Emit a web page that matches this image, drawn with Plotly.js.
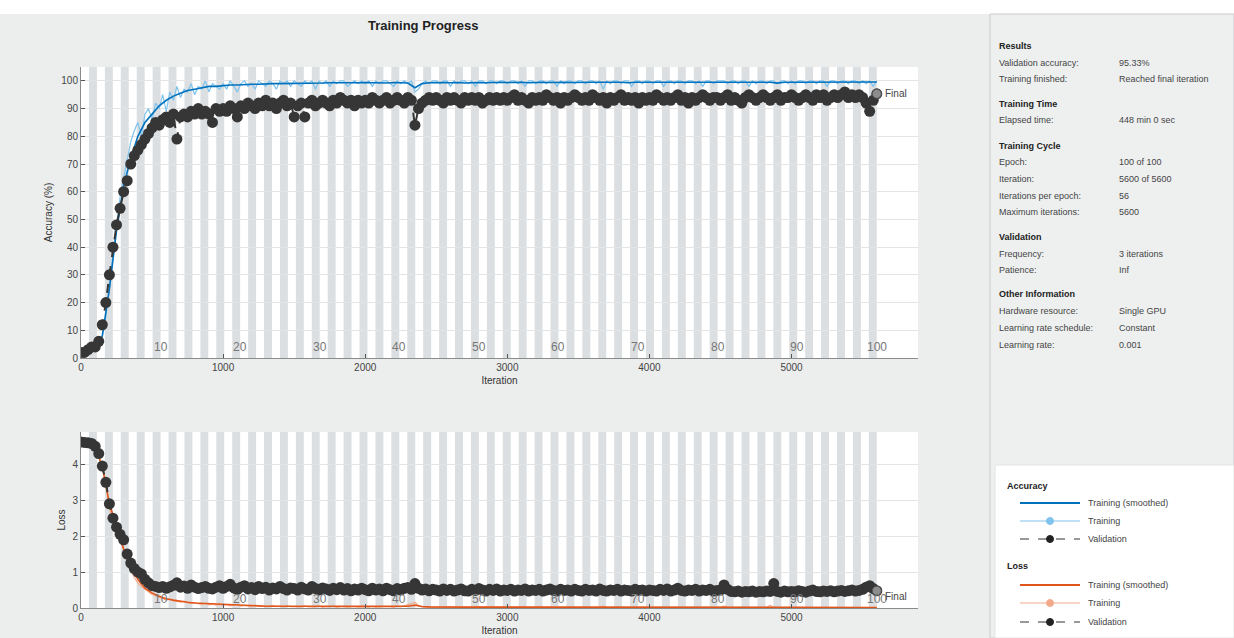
<!DOCTYPE html>
<html><head><meta charset="utf-8">
<script src="https://cdn.plot.ly/plotly-3.0.1.min.js"></script>
<style>html,body{margin:0;padding:0;background:#eceeee;}#chart{width:1234px;height:638px;}</style>
</head><body><div id="chart"></div>
<script>
// ---------------- DATA ----------------
// iterations sampled every 25 (raw training + validation)
const iterDense = [
 0,25,50,75,100,125,150,175,200,225,250,275,300,325,350,375,400,425,450,475,
 500,525,550,575,600,625,650,675,700,725,750,775,800,825,850,875,900,925,950,975,
 1000,1025,1050,1075,1100,1125,1150,1175,1200,1225,1250,1275,1300,1325,1350,1375,1400,1425,1450,1475,
 1500,1525,1550,1575,1600,1625,1650,1675,1700,1725,1750,1775,1800,1825,1850,1875,1900,1925,1950,1975,
 2000,2025,2050,2075,2100,2125,2150,2175,2200,2225,2250,2275,2300,2325,2350,2375,2400,2425,2450,2475,
 2500,2525,2550,2575,2600,2625,2650,2675,2700,2725,2750,2775,2800,2825,2850,2875,2900,2925,2950,2975,
 3000,3025,3050,3075,3100,3125,3150,3175,3200,3225,3250,3275,3300,3325,3350,3375,3400,3425,3450,3475,
 3500,3525,3550,3575,3600,3625,3650,3675,3700,3725,3750,3775,3800,3825,3850,3875,3900,3925,3950,3975,
 4000,4025,4050,4075,4100,4125,4150,4175,4200,4225,4250,4275,4300,4325,4350,4375,4400,4425,4450,4475,
 4500,4525,4550,4575,4600,4625,4650,4675,4700,4725,4750,4775,4800,4825,4850,4875,4900,4925,4950,4975,
 5000,5025,5050,5075,5100,5125,5150,5175,5200,5225,5250,5275,5300,5325,5350,5375,5400,5425,5450,5475,
 5500,5525,5550,5575,5600];

// iterations sampled every 50 (smoothed curves)
const iterSmooth = [
 0,50,100,150,200,250,300,350,400,450,
 500,550,600,650,700,750,800,850,900,950,
 1000,1050,1100,1150,1200,1250,1300,1350,1400,1450,
 1500,1550,1600,1650,1700,1750,1800,1850,1900,1950,
 2000,2050,2100,2150,2200,2250,2300,2350,2400,2450,
 2500,2550,2600,2650,2700,2750,2800,2850,2900,2950,
 3000,3050,3100,3150,3200,3250,3300,3350,3400,3450,
 3500,3550,3600,3650,3700,3750,3800,3850,3900,3950,
 4000,4050,4100,4150,4200,4250,4300,4350,4400,4450,
 4500,4550,4600,4650,4700,4750,4800,4850,4900,4950,
 5000,5050,5100,5150,5200,5250,5300,5350,5400,5450,
 5500,5550,5600];

const trainAccRaw = [
 1,2,3,2,4,3,8,15,25,38,48,58,65,72,78,82,85,80,88,90,
 86,92,90,95,89,96,93,98,94,97,96,99,95,98,97,100,96,99,98,97,
 99,97,100,98,96,99,100,98,99,97,100,99,98,100,99,97,100,99,100,98,
 100,99,98,100,99,100,97,100,99,100,98,100,99,100,100,98,99,100,99,100,
 99,100,98,100,99,100,100,99,98,100,99,100,99,100,96,97,99,100,99,100,
 100,99,100,100,98,100,99,100,100,99,100,98,100,100,99,100,100,99,100,100,
 99,100,100,99,100,98,100,100,99,100,100,99,100,100,98,100,99,100,100,99,
 100,100,99,100,100,99,100,97,100,99,100,100,99,100,100,98,100,100,99,100,
 100,99,100,100,98,100,100,99,100,100,99,100,100,99,100,98,100,100,99,100,
 100,100,99,100,100,99,100,100,98,100,99,100,100,99,100,100,99,100,100,99,
 100,99,100,100,99,100,100,99,100,100,98,100,100,99,100,100,99,100,100,99,
 100,99,100,98,100];

const valAcc = [
 2,2,3,4,4,6,12,20,30,40,48,54,60,64,70,73,75,77,79,81,
 83,85,84,86,87,85,88,79,87,88,87,89,88,90,88,89,88,85,90,89,
 90,89,91,90,87,91,90,92,91,90,92,91,93,91,92,90,92,93,91,92,
 87,91,92,87,92,93,91,92,93,92,91,93,92,94,93,92,93,91,93,92,
 93,92,94,93,92,93,94,92,93,94,93,92,94,93,84,90,92,93,94,93,
 94,93,92,94,93,94,93,92,94,93,94,93,94,92,93,94,93,94,93,94,
 93,94,95,93,94,93,92,94,93,94,93,95,94,93,94,92,94,93,94,95,
 94,93,94,93,95,94,93,94,92,94,93,94,95,93,94,93,94,92,94,93,
 94,93,95,94,93,94,93,94,95,93,94,92,94,93,94,95,94,93,94,94,
 93,94,95,93,94,93,92,94,95,94,93,94,95,94,93,94,95,93,94,94,
 95,94,93,94,95,94,93,95,94,95,93,94,95,94,95,96,94,95,94,95,
 94,92,89,93,95.33];

const trainAccSmooth = [
 2,3,3,8,25,46,62,72,80,85,
 88,91,93,94.5,95.5,96.5,97,97.5,98,98,
 98.3,98.5,98.5,98.7,98.8,98.8,99,99,99,99,
 99,99.2,99,99.2,99.2,99.3,99.3,99.1,99.3,99.3,
 99.4,99.3,99.4,99.2,99.4,99.3,99.2,97.5,99,99.3,
 99.4,99.4,99.3,99.4,99.2,99.4,99.4,99.3,99.5,99.5,
 99.4,99.5,99.5,99.3,99.5,99.5,99.4,99.5,99.5,99.4,
 99.5,99.4,99.5,99.5,99.4,99.5,99.5,99.3,99.5,99.5,
 99.5,99.4,99.5,99.5,99.5,99.4,99.5,99.5,99.3,99.5,
 99.5,99.5,99.4,99.5,99.5,99.5,99.4,99.5,99.2,99.5,
 99.5,99.5,99.4,99.5,99.5,99.5,99.5,99.4,99.5,99.5,
 99.5,99.4,99.6];

const trainLossRaw = [
 4.6,4.6,4.58,4.55,4.45,4.25,3.9,3.4,2.8,2.35,2.2,1.9,1.6,1.3,1.05,0.85,0.7,0.6,0.52,0.45,
 0.38,0.34,0.3,0.26,0.22,0.25,0.2,0.18,0.16,0.19,0.14,0.13,0.15,0.12,0.1,0.13,0.09,0.11,0.08,0.1,
 0.07,0.09,0.06,0.08,0.1,0.05,0.07,0.06,0.04,0.08,0.05,0.06,0.04,0.05,0.07,0.04,0.05,0.03,0.06,0.04,
 0.04,0.05,0.03,0.06,0.03,0.04,0.03,0.05,0.02,0.04,0.03,0.05,0.02,0.03,0.04,0.02,0.03,0.04,0.02,0.03,
 0.03,0.02,0.04,0.02,0.03,0.02,0.04,0.03,0.02,0.05,0.03,0.06,0.08,0.12,0.16,0.06,0.03,0.02,0.03,0.02,
 0.02,0.03,0.02,0.02,0.04,0.02,0.03,0.02,0.02,0.03,0.02,0.02,0.04,0.02,0.02,0.03,0.02,0.02,0.03,0.02,
 0.02,0.02,0.03,0.02,0.02,0.04,0.02,0.02,0.03,0.02,0.02,0.02,0.03,0.02,0.02,0.04,0.02,0.02,0.02,0.03,
 0.02,0.03,0.02,0.02,0.02,0.03,0.02,0.05,0.02,0.02,0.03,0.02,0.02,0.02,0.03,0.02,0.02,0.04,0.02,0.02,
 0.02,0.02,0.03,0.02,0.02,0.02,0.03,0.02,0.02,0.04,0.02,0.02,0.02,0.03,0.02,0.02,0.02,0.03,0.02,0.02,
 0.02,0.05,0.02,0.02,0.03,0.02,0.02,0.02,0.03,0.02,0.02,0.02,0.03,0.02,0.07,0.02,0.02,0.03,0.02,0.02,
 0.02,0.02,0.03,0.02,0.02,0.02,0.03,0.02,0.02,0.02,0.03,0.02,0.02,0.02,0.03,0.02,0.02,0.02,0.03,0.02,
 0.02,0.03,0.02,0.02,0.01];

const trainLossSmooth = [
 4.6,4.58,4.45,3.95,2.9,2.25,1.65,1.15,0.8,0.55,
 0.42,0.33,0.26,0.22,0.18,0.16,0.14,0.13,0.11,0.1,
 0.09,0.08,0.07,0.07,0.06,0.06,0.05,0.05,0.05,0.04,
 0.04,0.04,0.04,0.035,0.035,0.03,0.03,0.03,0.03,0.03,
 0.03,0.03,0.03,0.03,0.03,0.03,0.05,0.08,0.04,0.03,
 0.025,0.025,0.025,0.025,0.025,0.025,0.025,0.025,0.025,0.025,
 0.02,0.02,0.02,0.02,0.02,0.02,0.02,0.02,0.02,0.02,
 0.02,0.02,0.02,0.02,0.02,0.025,0.02,0.02,0.02,0.02,
 0.02,0.02,0.02,0.02,0.02,0.02,0.02,0.02,0.02,0.02,
 0.02,0.03,0.02,0.02,0.02,0.02,0.02,0.03,0.02,0.02,
 0.02,0.02,0.02,0.02,0.02,0.02,0.02,0.02,0.02,0.02,
 0.02,0.02,0.015];

const valLoss = [
 4.62,4.61,4.6,4.58,4.5,4.3,3.95,3.5,2.9,2.5,2.25,2.05,1.9,1.5,1.25,1.1,1.0,0.95,0.8,0.7,
 0.62,0.6,0.57,0.6,0.55,0.59,0.63,0.7,0.58,0.61,0.55,0.64,0.58,0.54,0.57,0.6,0.55,0.53,0.58,0.62,
 0.55,0.6,0.66,0.56,0.52,0.58,0.62,0.53,0.57,0.51,0.6,0.54,0.58,0.5,0.56,0.53,0.6,0.54,0.5,0.56,
 0.54,0.5,0.58,0.53,0.5,0.6,0.54,0.5,0.56,0.53,0.49,0.55,0.51,0.57,0.5,0.54,0.48,0.53,0.5,0.55,
 0.51,0.48,0.55,0.5,0.53,0.48,0.55,0.51,0.48,0.54,0.5,0.55,0.57,0.52,0.68,0.55,0.5,0.53,0.48,0.52,
 0.5,0.47,0.53,0.49,0.52,0.47,0.5,0.53,0.48,0.47,0.52,0.49,0.54,0.5,0.47,0.52,0.49,0.53,0.47,0.5,
 0.49,0.52,0.47,0.5,0.49,0.53,0.47,0.5,0.49,0.52,0.47,0.5,0.53,0.49,0.47,0.52,0.49,0.5,0.47,0.52,
 0.49,0.47,0.52,0.49,0.5,0.47,0.53,0.49,0.47,0.5,0.49,0.52,0.47,0.5,0.49,0.47,0.52,0.49,0.5,0.47,
 0.5,0.49,0.47,0.52,0.49,0.53,0.47,0.5,0.55,0.49,0.47,0.5,0.49,0.52,0.47,0.5,0.49,0.52,0.47,0.49,
 0.5,0.64,0.52,0.46,0.45,0.47,0.44,0.46,0.45,0.47,0.44,0.46,0.45,0.47,0.46,0.68,0.46,0.44,0.47,0.45,
 0.46,0.45,0.48,0.46,0.44,0.47,0.5,0.46,0.45,0.47,0.46,0.48,0.45,0.47,0.49,0.46,0.48,0.5,0.47,0.49,
 0.52,0.58,0.62,0.54,0.48];

const finalIteration = [5600];
const finalAccuracy = [95.33];
const finalLoss = [0.48];
const epochLabels = [10,20,30,40,50,60,70,80,90,100];
const accTicks = [0,10,20,30,40,50,60,70,80,90,100];
const lossTicks = [0,1,2,3,4];
const iterTicks = [0,1000,2000,3000,4000,5000];

const numEpochs = 100;
const itersPerEpoch = 56;

const infoLabels = ["Results","Validation accuracy:","Training finished:","Training Time","Elapsed time:","Training Cycle","Epoch:","Iteration:","Iterations per epoch:","Maximum iterations:","Validation","Frequency:","Patience:","Other Information","Hardware resource:","Learning rate schedule:","Learning rate:"];
const infoValues = [null,"95.33%","Reached final iteration",null,"448 min 0 sec",null,"100 of 100","5600 of 5600","56","5600",null,"3 iterations","Inf",null,"Single GPU","Constant","0.001"];
const infoRowY = [46,63,79,104,120,146,162,179,196,212,237,254,270,294,311,328,345];

// ---------------- LAYOUT HELPERS ----------------
const W = 1234, H = 638;
const PX = x => x / W;
const PY = y => 1 - y / H;
const FONT = "Liberation Sans, Arial, Helvetica, sans-serif";
const BLUE = "#0072bd", LIGHTBLUE = "#7fc3ee", ORANGE = "#e0561a", LIGHTORANGE = "#f2a98a", DARK = "#363636";

const shapes = [];
const annotations = [];
function note(x, y, text, opts) {
  annotations.push(Object.assign({xref:'paper', yref:'paper', x:PX(x), y:PY(y), text:text, showarrow:false,
    xanchor:'left', yanchor:'middle', font:{family:FONT, size:9, color:'#444'}}, opts || {}));
}

// page decorations
shapes.push({type:'rect', xref:'paper', yref:'paper', x0:0, x1:1, y0:PY(14), y1:1, fillcolor:'#ffffff', line:{width:0}, layer:'below'});
shapes.push({type:'rect', xref:'paper', yref:'paper', x0:PX(990), x1:1, y0:0, y1:PY(14), fillcolor:'#eef0f0', line:{color:'#c9cbcc', width:1}, layer:'below'});
shapes.push({type:'rect', xref:'paper', yref:'paper', x0:PX(995), x1:1, y0:0, y1:PY(465), fillcolor:'#ffffff', line:{color:'#e2e4e4', width:1}, layer:'below'});

// epoch bands
for (const ax of [['x','y'],['x2','y2']]) {
  for (let e = 1; e < numEpochs; e += 2) {
    shapes.push({type:'rect', xref:ax[0], yref:ax[1] + ' domain', x0:e*itersPerEpoch, x1:(e+1)*itersPerEpoch, y0:0, y1:1,
      fillcolor:'#dcdfe1', line:{width:0}, layer:'below'});
  }
}
// epoch labels
for (const ep of epochLabels) {
  annotations.push({xref:'x', yref:'y domain', x:ep*itersPerEpoch, y:0, yanchor:'bottom', yshift:2, text:String(ep), showarrow:false,
    font:{family:FONT, size:12, color:'#777'}});
  annotations.push({xref:'x2', yref:'y2 domain', x:ep*itersPerEpoch, y:0, yanchor:'bottom', yshift:0, text:String(ep), showarrow:false,
    font:{family:FONT, size:12, color:'#777'}});
}
// Final labels
annotations.push({xref:'x', yref:'y', x:finalIteration[0], y:finalAccuracy[0], xanchor:'left', yanchor:'middle', xshift:6, text:'Final', showarrow:false, font:{family:FONT,size:10,color:'#444'}});
annotations.push({xref:'x2', yref:'y2', x:finalIteration[0], y:finalLoss[0], xanchor:'left', yanchor:'top', xshift:6, yshift:2, text:'Final', showarrow:false, font:{family:FONT,size:10,color:'#444'}});

// title
note(423, 26, '<b>Training Progress</b>', {xanchor:'center', font:{family:FONT, size:13, color:'#222'}});

// info panel
infoLabels.forEach((lab, i) => {
  if (infoValues[i] === null) {
    note(997, infoRowY[i], '<b>'+lab+'</b>', {font:{family:FONT,size:9,color:'#222'}});
  } else {
    note(997, infoRowY[i], lab);
    note(1117, infoRowY[i], infoValues[i]);
  }
});

// legend panel
const legendItems = [
 {head:'Accuracy', y:486},
 {label:'Training (smoothed)', y:503, color:BLUE, width:2, dash:'solid'},
 {label:'Training', y:521, color:LIGHTBLUE, width:1.2, dash:'solid', marker:LIGHTBLUE},
 {label:'Validation', y:539, color:'#333', width:1.2, dash:'dash', marker:'#222'},
 {head:'Loss', y:566},
 {label:'Training (smoothed)', y:585, color:ORANGE, width:2, dash:'solid'},
 {label:'Training', y:603, color:LIGHTORANGE, width:1.2, dash:'solid', marker:LIGHTORANGE},
 {label:'Validation', y:622, color:'#333', width:1.2, dash:'dash', marker:'#222'}
];
for (const it of legendItems) {
  if (it.head) { note(1005, it.y, '<b>'+it.head+'</b>', {font:{family:FONT,size:9,color:'#222'}}); continue; }
  shapes.push({type:'line', xref:'paper', yref:'paper', x0:PX(1020), x1:PX(1080), y0:PY(it.y), y1:PY(it.y), line:{color:it.color, width:it.width, dash:it.dash}});
  if (it.marker) {
    shapes.push({type:'circle', xref:'paper', yref:'paper', x0:PX(1046.5), x1:PX(1053.5), y0:PY(it.y+3.5), y1:PY(it.y-3.5), fillcolor:it.marker, line:{color:it.marker, width:1}});
  }
  note(1086, it.y, it.label);
}

// ---------------- TRACES ----------------
const traces = [
 {x:iterDense, y:trainAccRaw, xaxis:'x', yaxis:'y', mode:'lines', line:{color:LIGHTBLUE, width:1.2}},
 {x:iterSmooth, y:trainAccSmooth, xaxis:'x', yaxis:'y', mode:'lines', line:{color:BLUE, width:1.6}},
 {x:iterDense, y:valAcc, xaxis:'x', yaxis:'y', mode:'lines+markers', line:{color:DARK, width:2, dash:'dash'}, marker:{color:DARK, size:11}},
 {x:finalIteration, y:finalAccuracy, xaxis:'x', yaxis:'y', mode:'markers', marker:{color:'rgba(200,200,200,0.6)', size:9, line:{color:'#555', width:1}}},
 {x:iterDense, y:trainLossRaw, xaxis:'x2', yaxis:'y2', mode:'lines', line:{color:LIGHTORANGE, width:1.2}},
 {x:iterSmooth, y:trainLossSmooth, xaxis:'x2', yaxis:'y2', mode:'lines', line:{color:ORANGE, width:1.6}},
 {x:iterDense, y:valLoss, xaxis:'x2', yaxis:'y2', mode:'lines+markers', line:{color:DARK, width:2, dash:'dash'}, marker:{color:DARK, size:11}},
 {x:finalIteration, y:finalLoss, xaxis:'x2', yaxis:'y2', mode:'markers', marker:{color:'rgba(200,200,200,0.6)', size:9, line:{color:'#555', width:1}}}
];

const axisCommon = {
  showline:true, linecolor:'#8a8a8a', linewidth:1, ticks:'inside', ticklen:4, tickcolor:'#555',
  tickfont:{family:FONT, size:10, color:'#444'}, zeroline:false, mirror:false
};

const layout = {
  width:W, height:H, margin:{l:0,r:0,t:0,b:0}, showlegend:false,
  paper_bgcolor:'#eceeee', plot_bgcolor:'#ffffff',
  font:{family:FONT},
  xaxis: Object.assign({}, axisCommon, {domain:[PX(81), PX(918)], range:[0,5890], tickvals:iterTicks, showgrid:false, anchor:'y',
    title:{text:'Iteration', font:{family:FONT,size:10,color:'#333'}, standoff:4}}),
  yaxis: Object.assign({}, axisCommon, {domain:[PY(358), PY(67)], range:[0,105], tickvals:accTicks, showgrid:true, gridcolor:'#e4e4e4', anchor:'x',
    title:{text:'Accuracy (%)', font:{family:FONT,size:10,color:'#333'}, standoff:6}}),
  xaxis2: Object.assign({}, axisCommon, {domain:[PX(81), PX(918)], range:[0,5890], tickvals:iterTicks, showgrid:false, anchor:'y2',
    title:{text:'Iteration', font:{family:FONT,size:10,color:'#333'}, standoff:4}}),
  yaxis2: Object.assign({}, axisCommon, {domain:[PY(608), PY(432)], range:[0,4.9], tickvals:lossTicks, showgrid:true, gridcolor:'#e4e4e4', anchor:'x2',
    title:{text:'Loss', font:{family:FONT,size:10,color:'#333'}, standoff:4}}),
  shapes:shapes, annotations:annotations
};

Plotly.newPlot('chart', traces, layout, {staticPlot:true, displayModeBar:false});
</script>
</body></html>
